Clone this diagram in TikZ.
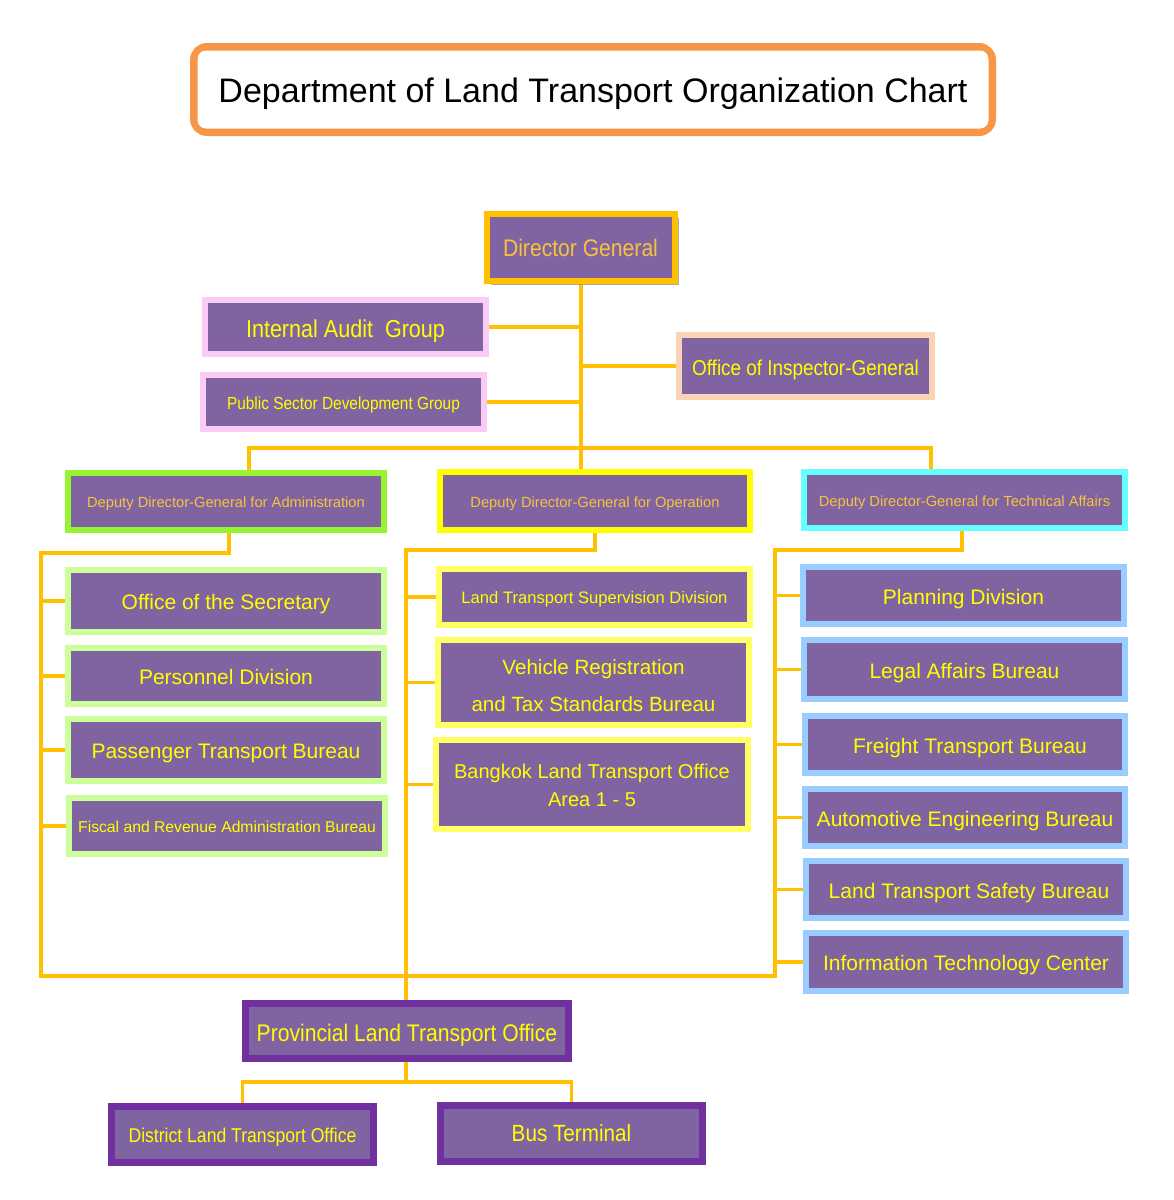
\documentclass[tikz,border=0pt]{standalone}
\usepackage{fontspec}
\setmainfont{Liberation Sans}
\newfontfamily\narrowfont[FakeStretch=0.88]{Liberation Sans}
\usetikzlibrary{backgrounds,shadows}
\definecolor{boxpurple}{HTML}{8064A2}
\definecolor{linegold}{HTML}{FFC000}
\definecolor{txtyellow}{HTML}{FFFF00}
\definecolor{txtgold}{HTML}{F9C23C}
\definecolor{titleorange}{HTML}{F79646}
\definecolor{pinkb}{HTML}{FBCBF8}
\definecolor{peachb}{HTML}{FAD3B4}
\definecolor{greenb}{HTML}{96F430}
\definecolor{yellowb}{HTML}{FFFF00}
\definecolor{cyanb}{HTML}{66FFFF}
\definecolor{lgreenb}{HTML}{CCFF99}
\definecolor{lyellowb}{HTML}{FFFF66}
\definecolor{lblueb}{HTML}{99CCFF}
\definecolor{darkpurple}{HTML}{7030A0}
\begin{document}
\begin{tikzpicture}[x=1pt,y=-1pt,
  orgbox/.style={draw=#1, line width=6pt, fill=boxpurple, inner sep=0pt, outer sep=0pt, align=center, text=txtyellow},
  conn/.style={draw=linegold, line width=4pt},
  subconn/.style={conn, line width=3.5pt},
  fa/.style={font=\fontsize{21}{25}\selectfont, text height=22pt, text depth=4.4pt},
  fdep/.style={text=txtgold, font=\fontsize{14.7}{18}\selectfont, text height=15.4pt, text depth=3.1pt}]
\useasboundingbox (0,0) rectangle (1174,1200);

% title
\node[draw=titleorange, line width=6pt, rounded corners=14pt, minimum width=800pt, minimum height=87pt, inner sep=0pt, fill=white, font=\fontsize{34}{40}\selectfont, text height=33pt, text depth=7.1pt] (title) at (593,89.5) {Department of Land Transport Organization Chart};
\draw[titleorange, line width=2pt, rounded corners=9pt] ([shift={(6.5pt,-6.5pt)}]title.north west) rectangle ([shift={(-6.5pt,6.5pt)}]title.south east);

% top level
\node[orgbox=linegold, minimum width=188pt, minimum height=67pt, text=txtgold, font=\narrowfont\fontsize{24}{28}\selectfont, drop shadow={shadow xshift=4pt, shadow yshift=-4pt, fill=black!40, opacity=0.8}] (dg) at (580.5,247.5) {Director General};
\node[orgbox=pinkb, minimum width=281pt, minimum height=54pt, font=\narrowfont\fontsize{24.5}{28}\selectfont, text height=25.7pt, text depth=5.1pt] (ia) at (345.5,327) {Internal Audit~ Group};
\node[orgbox=pinkb, minimum width=281pt, minimum height=54pt, font=\narrowfont\fontsize{17.5}{21}\selectfont, text height=18.4pt, text depth=3.7pt] (ps) at (343.5,402) {Public Sector Development Group};
\node[orgbox=peachb, minimum width=253pt, minimum height=62pt, font=\narrowfont\fontsize{21.5}{25}\selectfont, text height=22.6pt, text depth=4.5pt] (ig) at (805.5,366) {Office of Inspector-General};

% deputies
\node[orgbox=greenb, minimum width=316pt, minimum height=57pt, fdep] (depA) at (226,501.5) {Deputy Director-General for Administration};
\node[orgbox=yellowb, minimum width=310pt, minimum height=58pt, fdep] (depO) at (595,501) {Deputy Director-General for Operation};
\node[orgbox=cyanb, minimum width=321pt, minimum height=56pt, fdep] (depT) at (964.5,500) {Deputy Director-General for Technical Affairs};

% administration column
\node[orgbox=lgreenb, minimum width=316pt, minimum height=62pt, fa] (sec) at (226,601) {Office of the Secretary};
\node[orgbox=lgreenb, minimum width=316pt, minimum height=56pt, fa] (per) at (226,676) {Personnel Division};
\node[orgbox=lgreenb, minimum width=316pt, minimum height=62pt, fa] (pas) at (226,750) {Passenger Transport Bureau};
\node[orgbox=lgreenb, minimum width=316pt, minimum height=56pt, font=\fontsize{15.7}{19}\selectfont, text height=16.5pt, text depth=3.3pt] (fis) at (227,826) {Fiscal and Revenue Administration Bureau};

% operation column
\node[orgbox=lyellowb, minimum width=311pt, minimum height=56pt, font=\fontsize{16.6}{20}\selectfont, text height=17.4pt, text depth=3.5pt] (sup) at (594.5,597) {Land Transport Supervision Division};
\node[orgbox=lyellowb, minimum width=311pt, minimum height=85pt, font=\fontsize{20.6}{25}\selectfont] (veh) at (593.5,682.5) {\rule{0pt}{21pt}Vehicle Registration\\[12pt]and Tax Standards Bureau};
\node[orgbox=lyellowb, minimum width=312pt, minimum height=89pt, font=\fontsize{20}{24}\selectfont] (bkk) at (592,784.5) {\rule{0pt}{17pt}Bangkok Land Transport Office\\[4pt]Area 1 - 5};

% technical column
\node[orgbox=lblueb, minimum width=321pt, minimum height=57pt, fa] (plan) at (963.5,595.5) {Planning Division};
\node[orgbox=lblueb, minimum width=321pt, minimum height=59pt, fa] (leg) at (964.5,669.5) {Legal Affairs Bureau};
\node[orgbox=lblueb, minimum width=320pt, minimum height=57pt, fa] (fre) at (965,744.5) {\hspace*{10pt}Freight Transport Bureau};
\node[orgbox=lblueb, minimum width=320pt, minimum height=57pt, fa] (aut) at (965,817.5) {Automotive Engineering Bureau};
\node[orgbox=lblueb, minimum width=320pt, minimum height=57pt, fa] (saf) at (966,889.5) {\hspace*{6pt}Land Transport Safety Bureau};
\node[orgbox=lblueb, minimum width=320pt, minimum height=58pt, fa] (itc) at (966,962) {Information Technology Center};

% provincial
\node[orgbox=darkpurple, line width=7pt, minimum width=323pt, minimum height=55pt, font=\narrowfont\fontsize{24}{28}\selectfont, text height=25.2pt, text depth=5pt] (prov) at (407,1031) {Provincial Land Transport Office};
\node[orgbox=darkpurple, line width=7pt, minimum width=262pt, minimum height=56pt, font=\narrowfont\fontsize{20}{24}\selectfont, text height=21pt, text depth=4.2pt] (dist) at (242.5,1134.5) {District Land Transport Office};
\node[orgbox=darkpurple, line width=7pt, minimum width=262pt, minimum height=56pt, font=\narrowfont\fontsize{23.5}{28}\selectfont] (bt) at (571.5,1133.5) {Bus Terminal};

% junction coordinates
\coordinate (hubref) at (0,448);
\coordinate (hub) at (dg.south |- hubref);
\coordinate (jA) at (41,553);
\coordinate (jAb) at (41,976);
\coordinate (jO) at (406,550);
\coordinate (jT) at (775,550);
\coordinate (jTb) at (775,976);
\coordinate (pj) at (406,1082);

\begin{scope}[on background layer]
\fill[white] (0,0) rectangle (1174,1200);
\draw[conn] (dg.south) |- (ia.east);
\draw[conn] (dg.south) |- (ps.east);
\draw[conn] (dg.south) |- (ig.west);
\draw[conn] (dg.south) -- (hub);
\draw[conn] ([xshift=23pt]depA.north) |- (hub) -| ([xshift=-33.5pt]depT.north);
\draw[conn] (hub) -- (hub |- depO.north);
% admin & technical loop
\draw[subconn] ([xshift=3pt]depA.south) |- (jA) -- (jAb) -- (jTb) -- (jT) -| ([xshift=-2.5pt]depT.south);
\draw[subconn] (jA |- sec.west) -- (sec.west);
\draw[subconn] (jA |- per.west) -- (per.west);
\draw[subconn] (jA |- pas.west) -- (pas.west);
\draw[subconn] (jA |- fis.west) -- (fis.west);
% operation
\draw[subconn] (depO.south) |- (jO) -- (jO |- prov.north);
\draw[subconn] (jO |- sup.west) -- (sup.west);
\draw[subconn] (jO |- veh.west) -- (veh.west);
\draw[subconn] (jO |- bkk.west) -- (bkk.west);
% technical stubs
\draw[subconn] (jT |- plan.west) -- (plan.west);
\draw[subconn] (jT |- leg.west) -- (leg.west);
\draw[subconn] (jT |- fre.west) -- (fre.west);
\draw[subconn] (jT |- aut.west) -- (aut.west);
\draw[subconn] (jT |- saf.west) -- (saf.west);
\draw[subconn] (jT |- itc.west) -- (itc.west);
% provincial
\draw[subconn] ([xshift=-1pt]prov.south) -- (pj) -| (dist.north);
\draw[subconn] (pj) -| (bt.north);
\end{scope}
\end{tikzpicture}
\end{document}
